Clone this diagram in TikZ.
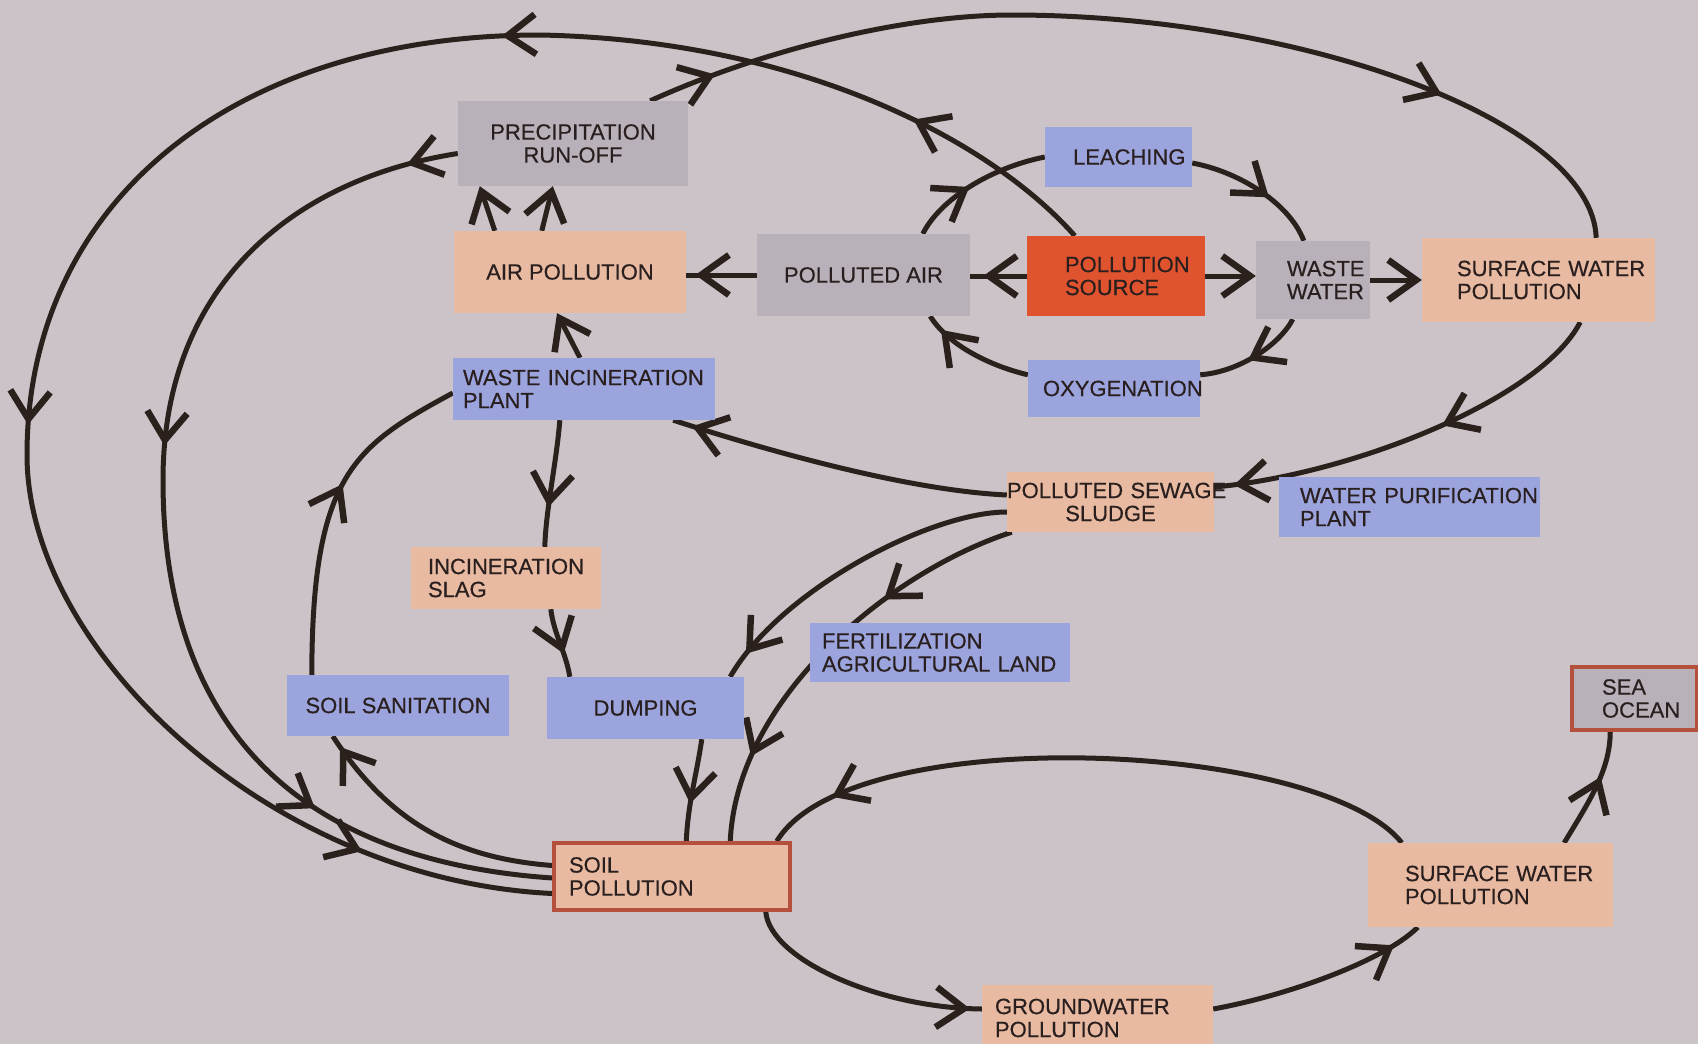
\documentclass[tikz,border=0pt]{standalone}
\usepackage{fontspec}
\newfontfamily\labfont[FakeBold=0.5]{Liberation Sans}
\usetikzlibrary{arrows.meta,decorations.markings}
\hyphenpenalty=10000
\exhyphenpenalty=10000
\definecolor{bgc}{HTML}{CCC3C9}
\definecolor{grayc}{HTML}{B9B1BA}
\definecolor{peachc}{HTML}{E9BAA2}
\definecolor{bluec}{HTML}{9CA4DE}
\definecolor{redc}{HTML}{E0532F}
\definecolor{borderc}{HTML}{B5503C}
\definecolor{linec}{HTML}{2B211C}
\definecolor{textc}{HTML}{2A1F1F}
\pgfdeclarelayer{back}
\pgfdeclarelayer{lines}
\pgfsetlayers{back,lines,main}
\pgfkeys{/pgf/decoration/ma/.style={mark=at position #1 with {\arrow{chev}}}}
\tikzset{
  chev/.tip={Straight Barb[length=28pt,width=40pt,line width=6.5pt]},
  box/.style={rectangle, inner sep=0pt, font=\labfont\fontsize{22}{23}\selectfont, text=textc},
  grayb/.style={box, fill=grayc},
  peachb/.style={box, fill=peachc},
  blueb/.style={box, fill=bluec},
  redb/.style={box, fill=redc},
  framed/.style={draw=borderc, line width=3.5pt},
  conn/.style={color=linec, line width=5pt},
  flowmarks/.style={postaction={decorate, decoration={markings, #1}}},
}
\begin{document}
\begin{tikzpicture}[x=1pt,y=-1pt]
\useasboundingbox (0,0) rectangle (1698,1044);
\begin{pgfonlayer}{back}
\fill[bgc] (0,0) rectangle (1698,1044);
\end{pgfonlayer}

% nodes
\node[grayb, minimum width=230, minimum height=85, align=center] (precip) at (573,143.5) {PRECIPITATION\\RUN-OFF};
\node[peachb, minimum width=232, minimum height=82] (airpol) at (570,272) {AIR POLLUTION};
\node[grayb, minimum width=213, minimum height=82] (pollair) at (863.5,275) {POLLUTED AIR};
\node[redb, minimum width=178, minimum height=80, text width=102pt, align=left] (source) at (1116,276) {POLLUTION\\SOURCE};
\node[grayb, minimum width=114, minimum height=78, text width=52pt, align=left] (wastew) at (1313,280) {WASTE\\WATER};
\node[peachb, minimum width=233, minimum height=84, text width=163pt, align=left] (swtop) at (1538.5,280) {SURFACE~WATER\\POLLUTION};
\node[blueb, minimum width=147, minimum height=60, text width=91pt, align=left] (leaching) at (1118.5,157) {LEACHING};
\node[blueb, minimum width=172, minimum height=57, text width=142pt, align=left] (oxygen) at (1114,388.5) {OXYGENATION};
\node[blueb, minimum width=262, minimum height=62, text width=242pt, align=left] (wip) at (584,389) {WASTE~INCINERATION\\PLANT};
\node[peachb, minimum width=207, minimum height=60, text width=207pt, align=center] (sludge) at (1110.5,502) {POLLUTED~SEWAGE\\SLUDGE};
\node[blueb, minimum width=261, minimum height=60, text width=219pt, align=left] (wpp) at (1409.5,507) {WATER~PURIFICATION\\PLANT};
\node[peachb, minimum width=190, minimum height=62, text width=156pt, align=left] (slag) at (506,578) {INCINERATION\\SLAG};
\node[blueb, minimum width=260, minimum height=59, text width=236pt, align=left] (fert) at (940,652.5) {FERTILIZATION\\AGRICULTURAL~LAND};
\node[blueb, minimum width=222, minimum height=61] (soilsan) at (398,705.5) {SOIL SANITATION};
\node[blueb, minimum width=197, minimum height=62] (dumping) at (645.5,708) {DUMPING};
\node[peachb, framed, minimum width=236, minimum height=67, text width=206pt, align=left] (soil) at (672,876.5) {SOIL\\POLLUTION};
\node[peachb, minimum width=231, minimum height=66, text width=205pt, align=left] (gw) at (1097.5,1018) {GROUNDWATER\\POLLUTION};
\node[peachb, minimum width=245, minimum height=84, text width=171pt, align=left] (swbot) at (1490.5,885) {SURFACE~WATER\\POLLUTION};
\node[grayb, framed, minimum width=125, minimum height=63, text width=65pt, align=left] (sea) at (1634.5,698.5) {SEA\\OCEAN};

\begin{pgfonlayer}{lines}
% short straight links
\draw[conn, flowmarks={ma=0.77}] (source.west) -- (source.west -| pollair.east);
\draw[conn, flowmarks={ma=0.87}] (pollair.west) -- (pollair.west -| airpol.east);
\draw[conn, -chev] ([xshift=41pt]airpol.north west) -- ([xshift=22pt]precip.south west);
\draw[conn, -chev] ([xshift=88pt]airpol.north west) -- ([xshift=95pt]precip.south west);
\draw[conn, -chev] ([xshift=-4pt]wip.north) -- ([xshift=-13pt]airpol.south);
\draw[conn, -chev] (source.east) -- (source.east -| wastew.west);
\draw[conn, -chev] (wastew.east) -- (wastew.east -| swtop.west);

% inner ring
\draw[conn, flowmarks={ma=0.45}] ([xshift=166pt]pollair.north west) .. controls +(17,-34) and +(-55,11) .. (leaching.west);
\draw[conn, flowmarks={ma=0.6}] ([yshift=-6pt]leaching.east) .. controls +(48,9) and +(-14,-37) .. ([xshift=48pt]wastew.north west);
\draw[conn, flowmarks={ma=0.55}] ([xshift=37pt]wastew.south west) .. controls +(-13,25) and +(40,-3) .. ([yshift=-15pt]oxygen.north east);
\draw[conn, flowmarks={ma=0.85}] ([yshift=-15pt]oxygen.north west) .. controls +(-38,-9) and +(18,29) .. ([xshift=-40pt]pollair.south east);

% outer loop: pollution source -> soil pollution
\draw[conn, flowmarks={ma=200pt, ma=624pt, ma=1300pt, ma=-196pt}]
  ([xshift=48pt]source.north west) .. controls (990,140) and (800,40) .. (540,35)
  .. controls (232,35) and (27,203) .. (27,455)
  .. controls (27,650) and (270,880) .. ([yshift=-17pt]soil.west);

% precipitation -> soil pollution
\draw[conn, flowmarks={ma=52pt, ma=450pt, ma=-250pt}]
  ([yshift=-10pt]precip.west) .. controls (288,180) and (163,290) .. (163,480)
  .. controls (163,720) and (290,860) .. ([yshift=-1.5pt]soil.west);

% soil -> soil sanitation -> waste incineration plant
\draw[conn, flowmarks={ma=-13pt}] ([yshift=11pt]soil.west) .. controls (454,858) and (388,821) .. ([xshift=46pt]soilsan.south west);
\draw[conn, flowmarks={ma=195pt}] ([xshift=25pt]soilsan.north west) .. controls (312,474) and (355,446) .. ([yshift=-4pt]wip.west);

% sludge -> waste incineration plant
\draw[conn, flowmarks={ma=-20pt}] ([yshift=7pt]sludge.west) .. controls (900,490) and (750,445) .. ([xshift=-42pt]wip.south east);

% incineration chain
\draw[conn, flowmarks={ma=-40pt}] ([xshift=107pt]wip.south west) .. controls +(-3,40) and +(1,-37) .. ([xshift=134pt]slag.north west);
\draw[conn, flowmarks={ma=-24pt}] ([xshift=140pt]slag.south west) .. controls +(3,25) and +(-4,-25) .. ([xshift=23pt]dumping.north west);
\draw[conn, flowmarks={ma=-38pt}] ([xshift=155pt]dumping.south west) .. controls +(-6,40) and +(2,-40) .. ([xshift=134pt]soil.north west);

% sludge -> dumping, sludge -> soil (fertilization)
\draw[conn, flowmarks={ma=-28pt}] ([yshift=-10pt]sludge.west) .. controls (930,512) and (780,590) .. ([xshift=-14pt]dumping.north east);
\draw[conn, flowmarks={ma=145pt, ma=-88pt}] ([xshift=5pt]sludge.south west) .. controls (894,570) and (737,695) .. ([xshift=178pt]soil.north west);

% precipitation -> surface water (top) -> sludge
\draw[conn, flowmarks={ma=70pt, ma=814pt}]
  ([xshift=-38pt]precip.north east) .. controls (758,52) and (900,15) .. (1012,15)
  .. controls (1300,15) and (1592,120) .. ([xshift=-59pt]swtop.north east);
\draw[conn, flowmarks={ma=175pt, ma=-20pt}] ([xshift=-75pt]swtop.south east) .. controls (1540,400) and (1350,475) .. ([yshift=15pt]sludge.east);

% bottom cycle
\draw[conn, flowmarks={ma=-12pt}] ([xshift=-26pt]soil.south east) .. controls (770,960) and (880,1008) .. ([yshift=9pt]gw.west);
\draw[conn, flowmarks={ma=-30pt}] ([yshift=9pt]gw.east) .. controls (1290,995) and (1385,960) .. ([xshift=50pt]swbot.south west);
\draw[conn, flowmarks={ma=-72pt}] ([xshift=34pt]swbot.north west) .. controls (1320,740) and (850,720) .. ([xshift=-15pt]soil.north east);
\draw[conn, flowmarks={ma=0.62}] ([xshift=-49pt]swbot.north east) .. controls (1590,800) and (1610,770) .. ([xshift=40pt]sea.south west);
\end{pgfonlayer}
\end{tikzpicture}
\end{document}
